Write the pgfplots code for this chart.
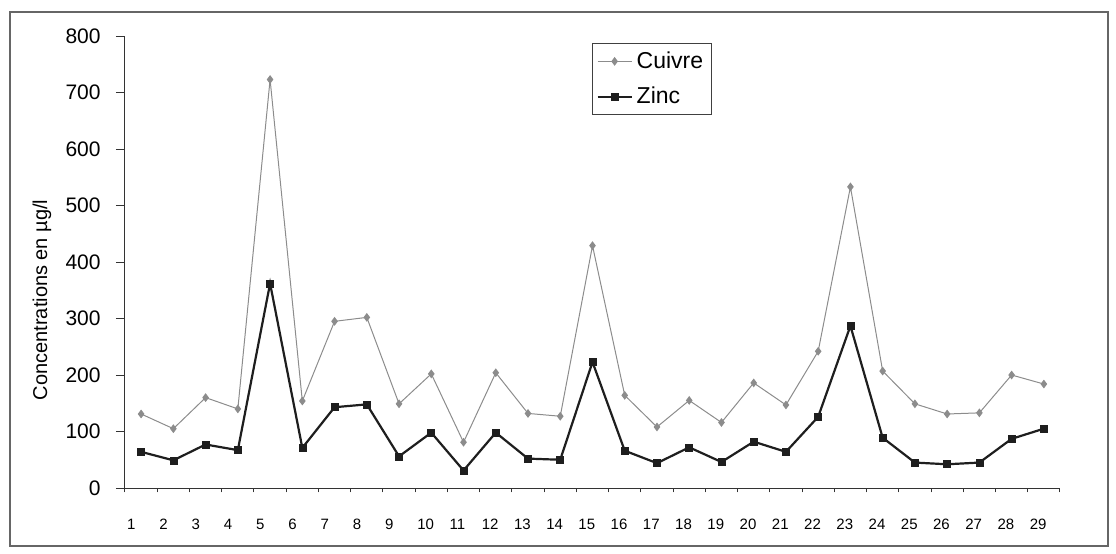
\documentclass[border=0pt]{standalone}
\usepackage{fontspec}
\setmainfont{Liberation Sans}
\usepackage{pgfplots}
\pgfplotsset{compat=1.18}
\definecolor{cuivre}{HTML}{8C8C8C}
\definecolor{zinc}{HTML}{1E1E1E}
\begin{document}
\begin{tikzpicture}
\begin{axis}[
  at={(0pt,0pt)}, anchor=south west,
  scale only axis, width=467.5pt, height=226pt,
  xmin=0.5, xmax=29.5, ymin=0, ymax=800,
  axis x line*=bottom, axis y line*=left,
  axis line style={black!80, line width=0.5pt},
  tick align=outside,
  major tick length=4.5pt,
  tick style={black!80, line width=0.5pt},
  ytick={0,100,...,800},
  xtick={1,...,29},
  xtick style={draw=none},
  extra x ticks={0.5,1.5,2.5,3.5,4.5,5.5,6.5,7.5,8.5,9.5,10.5,11.5,12.5,13.5,14.5,15.5,16.5,17.5,18.5,19.5,20.5,21.5,22.5,23.5,24.5,25.5,26.5,27.5,28.5,29.5},
  extra x tick labels={},
  extra x tick style={major tick length=2.2pt, xtick style={draw=black!80}},
  /pgf/number format/assume math mode=true,
  yticklabel style={font=\fontsize{10.5}{12}\selectfont, anchor=east, inner sep=0pt, xshift=-7.5pt},
  xticklabel style={font=\fontsize{7.5}{8}\selectfont, anchor=north west, inner sep=0pt, xshift=-7.2pt, yshift=-11pt},
  ylabel={Concentrations en µg/l},
  ylabel style={font=\fontsize{10}{11}\selectfont, at={(axis description cs:-0.0888,0.416)}, anchor=center, rotate=0},
  legend style={at={(0.4995,0.9845)}, anchor=north west, draw=black!75, line width=0.5pt,
    font=\fontsize{11.5}{12}\selectfont, inner xsep=2pt, inner ysep=2pt, row sep=4pt,
    cells={anchor=west}},
  legend image code/.code={\draw[#1, mark repeat=2, mark phase=2] plot coordinates {(0pt,0pt) (8.5pt,0pt) (17pt,0pt)};},
  clip=false,
]
\addplot[color=cuivre, line width=0.5pt, mark=diamond*, mark size=1.8pt, mark options={fill=cuivre, draw=cuivre}]
coordinates {
(1,131) (2,105) (3,160) (4,140) (5,723) (6,154) (7,295) (8,302) (9,149) (10,202)
(11,81) (12,204) (13,132) (14,127) (15,429) (16,164) (17,108) (18,155) (19,116) (20,186)
(21,147) (22,242) (23,533) (24,207) (25,149) (26,131) (27,133) (28,200) (29,184)
};
\addlegendentry{Cuivre}
\addplot[color=zinc, line width=1.1pt, mark=square*, mark size=1.75pt, mark options={fill=zinc, draw=zinc, line width=0.3pt}]
coordinates {
(1,64) (2,49) (3,77) (4,67) (5,362) (6,71) (7,143) (8,148) (9,56) (10,98)
(11,31) (12,98) (13,52) (14,50) (15,223) (16,66) (17,44) (18,72) (19,46) (20,82)
(21,64) (22,126) (23,287) (24,89) (25,45) (26,42) (27,45) (28,87) (29,105)
};
\addlegendentry{Zinc}
\end{axis}
\draw[black!60, line width=0.6pt] (-57.5pt,-29pt) rectangle (491.5pt,238pt);
\useasboundingbox (-62.5pt,-32.5pt) rectangle (495.5pt,244pt);
\end{tikzpicture}
\end{document}
